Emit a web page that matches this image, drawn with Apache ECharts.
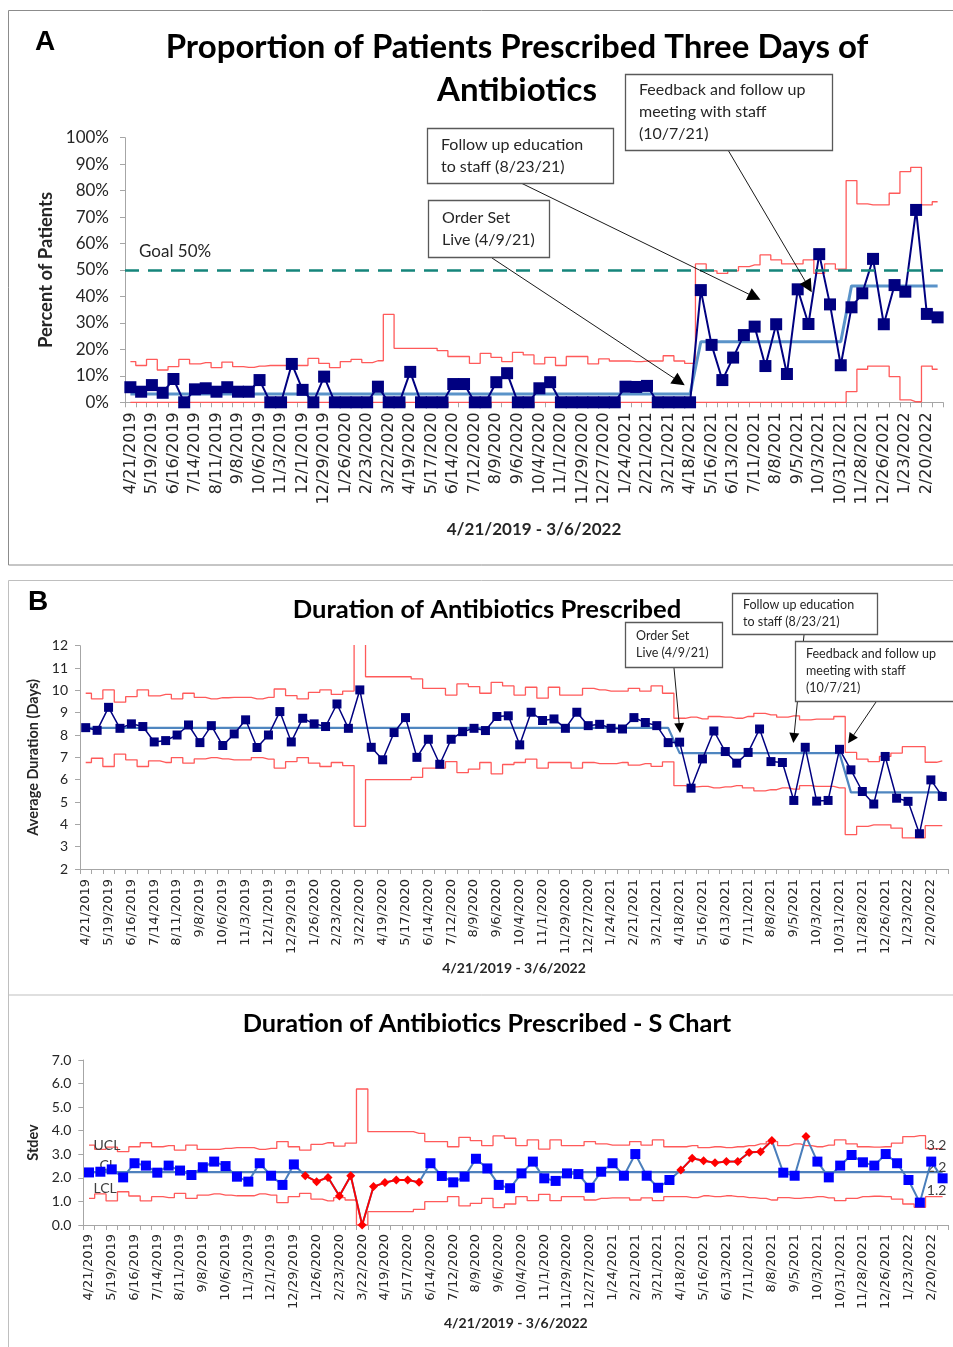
<!DOCTYPE html>
<html><head><meta charset="utf-8">
<script src="https://cdn.jsdelivr.net/npm/echarts@6/dist/echarts.min.js"></script>
<style>html,body{margin:0;padding:0;background:#fff}#c{width:953px;height:1347px}</style>
</head><body><div id="c"></div><script>
// ---------- categories (biweekly periods) ----------
const dates = ['4/21/2019','5/5/2019','5/19/2019','6/2/2019','6/16/2019','6/30/2019','7/14/2019','7/28/2019','8/11/2019','8/25/2019',
'9/8/2019','9/22/2019','10/6/2019','10/20/2019','11/3/2019','11/17/2019','12/1/2019','12/15/2019','12/29/2019','1/12/2020',
'1/26/2020','2/9/2020','2/23/2020','3/8/2020','3/22/2020','4/5/2020','4/19/2020','5/3/2020','5/17/2020','5/31/2020',
'6/14/2020','6/28/2020','7/12/2020','7/26/2020','8/9/2020','8/23/2020','9/6/2020','9/20/2020','10/4/2020','10/18/2020',
'11/1/2020','11/15/2020','11/29/2020','12/13/2020','12/27/2020','1/10/2021','1/24/2021','2/7/2021','2/21/2021','3/7/2021',
'3/21/2021','4/4/2021','4/18/2021','5/2/2021','5/16/2021','5/30/2021','6/13/2021','6/27/2021','7/11/2021','7/25/2021',
'8/8/2021','8/22/2021','9/5/2021','9/19/2021','10/3/2021','10/17/2021','10/31/2021','11/14/2021','11/28/2021','12/12/2021',
'12/26/2021','1/9/2022','1/23/2022','2/6/2022','2/20/2022','3/6/2022'];

// ---------- Panel A: p-chart (percent) ----------
const pctA = [5.7,4.0,6.5,3.6,8.8,0,4.9,5.3,4.0,5.7, 4.0,4.0,8.4,0,0,14.5,4.7,0,9.7,0,
0,0,0,5.9,0,0,11.5,0,0,0, 6.9,6.9,0,0,7.6,11.0,0,0,5.3,7.6,
0,0,0,0,0,0,5.9,5.8,6.2,0, 0,0,0,42.4,21.7,8.4,16.9,25.4,28.6,13.7,
29.5,10.7,42.7,29.6,56.0,37.0,14.0,35.9,41.2,54.2, 29.5,44.3,41.8,72.7,33.4,32.1];
const uclA = [15.4,13.9,16.2,12.2,13.5,16.2,14.5,15.0,13.1,15.2, 13.5,13.2,13.7,13.9,13.9,13.9,13.9,16.6,14.7,13.1,
15.4,16.2,15.0,15.7,33.2,20.4,20.4,20.4,20.4,19.5, 17.3,17.3,14.7,18.5,17.0,15.4,18.9,17.9,14.5,17.0,
13.9,17.3,17.3,14.5,16.4,15.6,15.6,15.4,15.6,15.6, 17.6,15.6,14.7,52.3,49.7,48.7,49.7,51.3,51.9,55.7,
53.8,52.3,52.3,53.8,48.7,52.3,50.3,83.8,75.0,74.6, 74.6,79.0,87.2,88.8,74.6,75.8];
const lclA = [0,0,0,0,0,0,0,0,0,0, 0,0,0,0,0,0,0,0,0,0, 0,0,0,0,0,0,0,0,0,0, 0,0,0,0,0,0,0,0,0,0,
0,0,0,0,0,0,0,0,0,0, 0,0,0,0,0,0,0,0,0,0, 0,0,0,0,0,0,0,4.0,12.5,13.7, 13.7,9.7,0.9,0.2,13.7,12.5];
const clLevelsA = [3.1, 22.9, 44.0];
const clBreaksA = [53, 67];
const goalA = 50;

// ---------- Panel B: X-bar chart (days) ----------
const durB = [8.33,8.21,9.24,8.30,8.50,8.38,7.69,7.75,8.00,8.45, 7.66,8.42,7.53,8.05,8.68,7.44,8.00,9.05,7.69,8.75,
8.50,8.38,9.39,8.30,10.02,7.45,6.89,8.11,8.78,7.00, 7.81,6.69,7.81,8.15,8.30,8.20,8.83,8.86,7.56,9.02,
8.65,8.72,8.30,9.02,8.42,8.48,8.30,8.27,8.78,8.56, 8.42,7.66,7.68,5.62,6.93,8.18,7.26,6.74,7.22,8.27,
6.81,6.77,5.07,7.45,5.04,5.07,7.36,6.44,5.47,4.91, 7.04,5.17,5.03,3.58,5.99,5.25];
const uclB = [9.87,9.62,10.02,9.47,9.72,10.02,9.75,9.82,9.62,9.87, 9.69,9.62,9.67,9.69,9.69,9.62,9.69,10.06,9.76,9.62,
9.91,10.02,9.82,9.97,14,10.61,10.61,10.61,10.61,10.51, 10.09,10.09,9.79,10.29,10.17,9.87,10.36,10.2,9.79,10.14,
9.65,10.14,9.79,9.79,10.09,10.02,9.97,9.97,10.09,9.97, 10.2,9.87,8.75,8.80,8.72,8.83,8.80,8.75,8.83,8.97,
8.90,8.80,8.86,8.68,8.71,8.71,8.83,7.22,6.92,6.81, 7.04,7.19,7.48,7.48,6.78,6.84];
const lclB = [6.77,6.96,6.59,7.14,6.89,6.59,6.84,6.77,6.99,6.74, 6.93,6.99,6.93,6.89,6.89,6.99,6.92,6.52,6.81,6.99,
6.74,6.59,6.77,6.63,3.91,6.0,6.0,6.0,6.0,6.10, 6.52,6.52,6.81,6.32,6.47,6.77,6.26,6.68,6.77,6.92,
6.52,6.77,6.77,6.52,6.77,6.72,6.72,6.77,6.65,6.72, 6.60,6.80,5.73,5.68,5.70,5.63,5.68,5.73,5.63,5.50,
5.55,5.63,5.58,5.73,5.70,5.70,5.63,3.54,3.91,3.98, 3.98,3.83,3.39,3.39,3.94,3.94];
const clLevelsB = [8.32, 7.19, 5.43];
const clBreaksB = [52, 67];

// ---------- Panel C: S chart (stdev) ----------
const sdS = [2.23,2.26,2.36,2.02,2.62,2.52,2.22,2.52,2.31,2.12, 2.45,2.69,2.50,2.05,1.84,2.62,2.09,1.70,2.57,2.09,
1.84,2.02,1.23,2.09,0,1.63,1.80,1.91,1.91,1.81, 2.62,2.08,1.81,2.05,2.81,2.40,1.70,1.56,2.19,2.69,
1.98,1.87,2.19,2.16,1.58,2.26,2.62,2.09,3.01,2.09, 1.58,1.91,2.33,2.83,2.73,2.64,2.69,2.69,3.08,3.11,
3.58,2.22,2.09,3.75,2.69,2.02,2.52,2.97,2.66,2.52, 3.01,2.62,1.91,0.95,2.69,1.98];
const uclS = [3.39,3.21,3.30,3.11,3.32,3.49,3.32,3.37,3.18,3.39, 3.21,3.21,3.25,3.28,3.28,3.21,3.25,3.54,3.32,3.18,
3.42,3.49,3.35,3.47,5.77,3.96,3.96,3.96,3.96,3.89, 3.54,3.54,3.32,3.72,3.58,3.37,3.78,3.68,3.37,3.61,
3.22,3.61,3.37,3.37,3.54,3.44,3.39,3.39,3.54,3.39, 3.61,3.32,3.32,3.37,3.28,3.32,3.28,3.32,3.37,3.44,
3.54,3.37,3.44,3.37,3.32,3.39,3.61,3.44,3.32,3.30, 3.32,3.47,3.75,3.79,3.24,3.24];
const lclS = [1.13,1.32,1.02,1.41,1.23,1.02,1.20,1.16,1.34,1.13, 1.27,1.32,1.27,1.24,1.24,1.32,1.27,0.95,1.20,1.34,
1.10,1.02,1.16,1.06,0,0.57,0.57,0.57,0.57,0.66, 0.99,0.99,1.20,0.81,0.92,1.13,0.74,0.89,1.20,1.03,
1.30,1.03,1.20,1.20,1.06,1.13,1.15,1.15,1.06,1.15, 1.03,1.20,1.20,1.16,1.24,1.20,1.24,1.20,1.16,1.13,
1.06,1.16,1.13,1.16,1.20,1.15,1.03,1.13,1.20,1.22, 1.20,1.10,0.89,0.75,1.20,1.20];
const clS = 2.24;
const sSignalIdx = [19,20,21,22,23,24,25,26,27,28,29,52,53,54,55,56,57,58,59,60,63];

// ---------- annotations ----------
const notesA = [
  {text:'Follow up education\nto staff (8/23/21)', box:[427,128,186,55], from:[521,183], to:[58,39.8]},
  {text:'Order Set\nLive (4/9/21)', box:[428,200,121,57], from:[492,258], to:[51,7.8]},
  {text:'Feedback and follow up\nmeeting with staff\n(10/7/21)', box:[625,74,207,76], from:[728,150], to:[63,43.7]}
];
const notesB = [
  {text:'Order Set\nLive (4/9/21)', box:[625,622,97,45], from:[674,668], to:[52,8.31]},
  {text:'Follow up education\nto staff (8/23/21)', box:[732,593,145,41], from:[804,635], to:[62,7.87]},
  {text:'Feedback and follow up\nmeeting with staff\n(10/7/21)', box:[795,641,175,60], from:[876,702], to:[67,7.82]}
];

function buildCL(levels, breaks){
  const out=[]; let p=0;
  for(let i=0;i<dates.length;i++){ while(p<breaks.length && i>=breaks[p]) p++; out.push(levels[p]); }
  return out;
}
const AX='#a6a6a6', TXT='#262626', RED='#ff5a5a';
const CAL='Lato';

function xAx(g, fs, margin, nameGap, nameFs){
  return {type:'category', gridIndex:g, data:dates, boundaryGap:true,
    axisLine:{lineStyle:{color:AX}}, axisTick:{show:true, interval:0, length:5, lineStyle:{color:AX}},
    axisLabel:{interval:1, rotate:90, fontFamily:'DejaVu Sans', fontSize:fs, color:TXT, margin:margin},
    splitLine:{show:false},
    name:'4/21/2019 - 3/6/2022', nameLocation:'middle', nameGap:nameGap,
    nameTextStyle:{fontFamily:CAL, fontWeight:'bold', fontSize:nameFs, color:TXT}};
}
function yAx(g, o){
  return Object.assign({type:'value', gridIndex:g, splitLine:{show:false},
    axisLine:{show:true, lineStyle:{color:AX}}, axisTick:{show:true, length:5, lineStyle:{color:AX}},
    nameLocation:'middle'}, o);
}
function limit(data, xi, color, w){
  return {type:'line', xAxisIndex:xi, yAxisIndex:xi, data:data, step:'middle', symbol:'none',
    lineStyle:{color:color||RED, width:w||1.3}, silent:true, z:2};
}
function arrowLine(notes, size){
  return {silent:true, symbol:['none','triangle'], symbolSize:size, label:{show:false},
    lineStyle:{color:'#000', width:0.9, type:'solid'}, itemStyle:{color:'#000'}, emphasis:{disabled:true},
    data: notes.map(n=>[{x:n.from[0], y:n.from[1]}, {coord:n.to}])};
}
function noteGraphics(notes, fs, lh, padX){
  const out=[];
  notes.forEach(n=>{
    out.push({type:'rect', shape:{x:n.box[0]+0.5,y:n.box[1]+0.5,width:n.box[2],height:n.box[3]},
      style:{fill:'#fff', stroke:'#595959', lineWidth:1.3}, z:100});
    out.push({type:'text', x:n.box[0]+padX, y:n.box[1]+n.box[3]/2, z:101,
      style:{text:n.text, fontFamily:CAL, fontSize:fs, lineHeight:lh, fill:TXT, align:'left', verticalAlign:'middle'}});
  });
  return out;
}

const sBlue = sdS.map((v,i)=> sSignalIdx.indexOf(i)>=0 ? {value:v, symbol:'none'} : v);
const sRed = sdS.map((v,i)=> sSignalIdx.indexOf(i)>=0 ? v : '-');
const lblBase = {show:true, fontFamily:CAL, fontSize:14, color:'#404040'};
const last = dates.length-1;
function withEndLabels(arr, firstTxt, firstOff, lastOff){
  return arr.map((v,i)=> i===0 ? {value:v, label:Object.assign({}, lblBase,{formatter:firstTxt, position:'right', distance:4, offset:firstOff})}
    : i===last ? {value:v, label:Object.assign({}, lblBase,{formatter:v.toFixed(1), position:'top', distance:2, offset:lastOff})} : v);
}
const clSArr = dates.map(()=>clS);
function labeled(s){
  return Object.assign(s, {symbol:'circle', symbolSize:1, showSymbol:true, showAllSymbol:true, itemStyle:{color:'rgba(0,0,0,0)'}});
}

const graphics = [
  {type:'rect', shape:{x:8.5,y:10.5,width:960,height:554.5}, style:{fill:'none', stroke:'#8c8c8c', lineWidth:1}, z:0, silent:true},
  {type:'rect', shape:{x:8.5,y:580.5,width:960,height:414.5}, style:{fill:'none', stroke:'#bfbfbf', lineWidth:1}, z:0, silent:true},
  {type:'line', shape:{x1:8.5,y1:995,x2:8.5,y2:1347}, style:{stroke:'#bfbfbf', lineWidth:1}, z:0, silent:true},
  {type:'text', x:35, y:42, style:{text:'A', fontFamily:'Liberation Sans', fontWeight:'bold', fontSize:28, fill:'#000', verticalAlign:'middle'}},
  {type:'text', x:517, y:47, style:{text:'Proportion of Patients Prescribed Three Days of', fontFamily:CAL, fontWeight:'bold', fontSize:33, fill:'#000', align:'center', verticalAlign:'middle'}},
  {type:'text', x:517, y:90, style:{text:'Antibiotics', fontFamily:CAL, fontWeight:'bold', fontSize:33, fill:'#000', align:'center', verticalAlign:'middle'}},
  {type:'text', x:139, y:252, style:{text:'Goal 50%', fontFamily:CAL, fontSize:17, fill:TXT, verticalAlign:'middle'}},
  {type:'text', x:28, y:602, style:{text:'B', fontFamily:'Liberation Sans', fontWeight:'bold', fontSize:28, fill:'#000', verticalAlign:'middle'}},
  {type:'text', x:487, y:610, style:{text:'Duration of Antibiotics Prescribed', fontFamily:CAL, fontWeight:'bold', fontSize:25.6, fill:'#000', align:'center', verticalAlign:'middle'}},
  {type:'text', x:487, y:1024, style:{text:'Duration of Antibiotics Prescribed - S Chart', fontFamily:CAL, fontWeight:'bold', fontSize:25.3, fill:'#000', align:'center', verticalAlign:'middle'}}
].concat(noteGraphics(notesA, 16, 22, 14), noteGraphics(notesB, 12.5, 17, 11));

const option = {
  animation:false,
  backgroundColor:'#fff',
  grid:[
    {left:125, top:137.7, width:818, height:264.6},
    {left:80, top:645.7, width:868, height:223.3},
    {left:83.3, top:1060, width:865, height:165}
  ],
  xAxis:[ xAx(0,16,10,119,17), xAx(1,13,10,92,14), xAx(2,13,9,91,14) ],
  yAxis:[
    yAx(0,{min:0,max:100,interval:10, axisLabel:{formatter:'{value}%', fontFamily:CAL, fontSize:17, color:TXT, margin:16},
      name:'Percent of Patients', nameGap:70, nameTextStyle:{fontFamily:CAL, fontWeight:'bold', fontSize:18.4, color:TXT}}),
    yAx(1,{min:2,max:12,interval:1, axisLabel:{fontFamily:CAL, fontSize:14, color:TXT, margin:12},
      name:'Average Duration (Days)', nameGap:31, nameTextStyle:{fontFamily:CAL, fontWeight:'bold', fontSize:14.5, color:TXT}}),
    yAx(2,{min:0,max:7,interval:1, axisLabel:{formatter:v=>v.toFixed(1), fontFamily:CAL, fontSize:14, color:TXT, margin:12},
      name:'Stdev', nameGap:34, nameTextStyle:{fontFamily:CAL, fontWeight:'bold', fontSize:14.5, color:TXT}})
  ],
  series:[
    // A
    limit(uclA,0), limit(lclA,0),
    {type:'line', xAxisIndex:0, yAxisIndex:0, data:buildCL(clLevelsA, clBreaksA), symbol:'none', lineStyle:{color:'#5a93c9', width:3}, z:3, silent:true,
      markLine:{silent:true, symbol:'none', label:{show:false}, lineStyle:{color:'#15857b', width:2.5, type:[14,9]}, data:[{yAxis:goalA}]}},
    {type:'line', xAxisIndex:0, yAxisIndex:0, data:pctA, symbol:'rect', symbolSize:12, showAllSymbol:true, itemStyle:{color:'#000080'},
      lineStyle:{color:'#000080', width:2}, z:4, silent:true, markLine:arrowLine(notesA, 13)},
    // B
    limit(uclB,1), limit(lclB,1),
    {type:'line', xAxisIndex:1, yAxisIndex:1, data:buildCL(clLevelsB, clBreaksB), symbol:'none', lineStyle:{color:'#4f86c0', width:2.2}, z:3, silent:true},
    {type:'line', xAxisIndex:1, yAxisIndex:1, data:durB, symbol:'rect', symbolSize:9, showAllSymbol:true, itemStyle:{color:'#000080'},
      lineStyle:{color:'#000080', width:1.5}, z:4, silent:true, markLine:arrowLine(notesB, 10)},
    // C
    labeled(limit(withEndLabels(uclS,'UCL',[0,0],[-6,6]),2)),
    labeled(limit(withEndLabels(lclS,'LCL',[0,-10],[-6,3]),2)),
    labeled({type:'line', xAxisIndex:2, yAxisIndex:2, data:withEndLabels(clSArr,'CL',[6,-7],[-6,5]), lineStyle:{color:'#4f81bd', width:2.2}, z:3, silent:true}),
    {type:'line', xAxisIndex:2, yAxisIndex:2, data:sBlue, symbol:'rect', symbolSize:10, showAllSymbol:true, itemStyle:{color:'#0000ff'},
      lineStyle:{color:'#4a7ebb', width:2}, z:4, silent:true},
    {type:'line', xAxisIndex:2, yAxisIndex:2, data:sRed, symbol:'diamond', symbolSize:9, showAllSymbol:true, itemStyle:{color:'#ff0000'},
      lineStyle:{color:'#ff0000', width:1.8}, z:5, silent:true, connectNulls:false}
  ],
  graphic:graphics
};
const chart = echarts.init(document.getElementById('c'), null, {renderer:'canvas', width:953, height:1347});
chart.setOption(option);
</script></body></html>
